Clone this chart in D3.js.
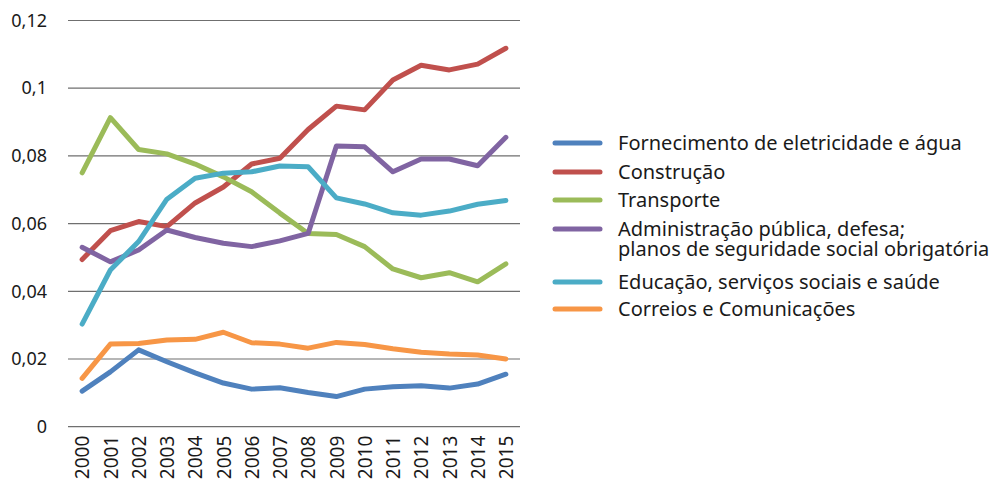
<!DOCTYPE html>
<html>
<head>
<meta charset="utf-8">
<script src="https://cdn.jsdelivr.net/npm/d3@7"></script>
<style>
  body { margin: 0; background: #fff; }
  text { font-family: "Noto Sans", "Open Sans", sans-serif; fill: #1a1a1a; }
</style>
</head>
<body>
<div id="chart"></div>
<script>
// chart data
var years = ["2000","2001","2002","2003","2004","2005","2006","2007","2008","2009","2010","2011","2012","2013","2014","2015"];
var yTicks = [0, 0.02, 0.04, 0.06, 0.08, 0.1, 0.12];

var fornecimento = [0.0105,0.0162,0.0227,0.0192,0.0159,0.0129,0.0111,0.0115,0.0101,0.0089,0.0111,0.0118,0.0121,0.0114,0.0126,0.0155];
var construcao   = [0.0494,0.0579,0.0606,0.0591,0.0661,0.0708,0.0776,0.0793,0.0878,0.0947,0.0936,0.1024,0.1068,0.1054,0.1071,0.1118];
var transporte   = [0.0750,0.0913,0.0819,0.0806,0.0776,0.0738,0.0694,0.0631,0.0571,0.0568,0.0532,0.0466,0.0440,0.0455,0.0428,0.0481];
var administracao= [0.0530,0.0487,0.0522,0.0581,0.0559,0.0542,0.0532,0.0549,0.0571,0.0829,0.0827,0.0753,0.0791,0.0791,0.0771,0.0855];
var educacao     = [0.0303,0.0463,0.0547,0.0672,0.0734,0.0749,0.0753,0.0770,0.0768,0.0676,0.0658,0.0632,0.0625,0.0637,0.0657,0.0668];
var correios     = [0.0143,0.0244,0.0246,0.0256,0.0258,0.0279,0.0248,0.0244,0.0232,0.0249,0.0243,0.0230,0.0220,0.0215,0.0212,0.0200];

var seriesNames = [
  ["Fornecimento de eletricidade e água"],
  ["Construção"],
  ["Transporte"],
  ["Administração pública, defesa;", "planos de seguridade social obrigatória"],
  ["Educação, serviços sociais e saúde"],
  ["Correios e Comunicações"]
];
var seriesValues = [fornecimento, construcao, transporte, administracao, educacao, correios];
var colors = ["#4f81bd", "#c0504d", "#9bbb59", "#8064a2", "#4bacc6", "#f79646"];

var svgWidth = 992, svgHeight = 484;
var margin = { top: 20.5, left: 68, right: 472, bottom: 57.3 };
var width = svgWidth - margin.left - margin.right;
var height = svgHeight - margin.top - margin.bottom;

var svg = d3.select("#chart").append("svg")
  .attr("width", svgWidth)
  .attr("height", svgHeight);

var chartGroup = svg.append("g")
  .attr("transform", `translate(${margin.left}, ${margin.top})`);

var xScale = d3.scalePoint()
  .domain(years)
  .range([0, width])
  .padding(0.5);

var yScale = d3.scaleLinear()
  .domain([0, 0.12])
  .range([height, 0]);

// gridlines
chartGroup.selectAll("line.grid")
  .data(yTicks)
  .enter()
  .append("line")
  .attr("class", "grid")
  .attr("x1", 0)
  .attr("x2", width)
  .attr("y1", d => yScale(d))
  .attr("y2", d => yScale(d))
  .attr("stroke", "#6f6f6f")
  .attr("stroke-width", 1.2);

// y axis labels
var fmt = d => d === 0 ? "0" : String(+d.toFixed(2)).replace(".", ",");
var leftAxis = d3.axisLeft(yScale).tickValues(yTicks).tickFormat(fmt).tickSize(0).tickPadding(21);
chartGroup.append("g")
  .call(leftAxis)
  .call(g => g.select(".domain").remove())
  .selectAll("text")
  .attr("font-size", "18px")
  .attr("font-family", "'Noto Sans', 'Open Sans', sans-serif")
  .attr("fill", "#1a1a1a");

// x axis labels (rotated)
var bottomAxis = d3.axisBottom(xScale).tickSize(0).tickPadding(0);
chartGroup.append("g")
  .attr("transform", `translate(0, ${height})`)
  .call(bottomAxis)
  .call(g => g.select(".domain").remove())
  .selectAll("text")
  .attr("font-size", "19px")
  .attr("font-family", "'Noto Sans', 'Open Sans', sans-serif")
  .attr("fill", "#1a1a1a")
  .attr("transform", "rotate(-90)")
  .attr("text-anchor", "end")
  .attr("x", -9)
  .attr("y", 0)
  .attr("dy", "0.35em");

// lines
var line = d3.line()
  .x((d, i) => xScale(years[i]))
  .y(d => yScale(d));

seriesValues.forEach(function(vals, i) {
  chartGroup.append("path")
    .datum(vals)
    .attr("d", line)
    .attr("fill", "none")
    .attr("stroke", colors[i])
    .attr("stroke-width", 5)
    .attr("stroke-linejoin", "round")
    .attr("stroke-linecap", "round");
});

// legend
var legendRows = [143, 172, 200, 229, 282, 309];
var legend = svg.append("g");
seriesNames.forEach(function(lines, i) {
  var y = legendRows[i];
  legend.append("line")
    .attr("x1", 555).attr("x2", 600)
    .attr("y1", y).attr("y2", y)
    .attr("stroke", colors[i])
    .attr("stroke-width", 5)
    .attr("stroke-linecap", "round");
  var txt = legend.append("text")
    .attr("y", y)
    .attr("font-size", "20px");
  lines.forEach(function(t, j) {
    txt.append("tspan")
      .attr("x", 618)
      .attr("dy", j === 0 ? "0.35em" : "19.5px")
      .text(t);
  });
});
</script>
</body>
</html>
